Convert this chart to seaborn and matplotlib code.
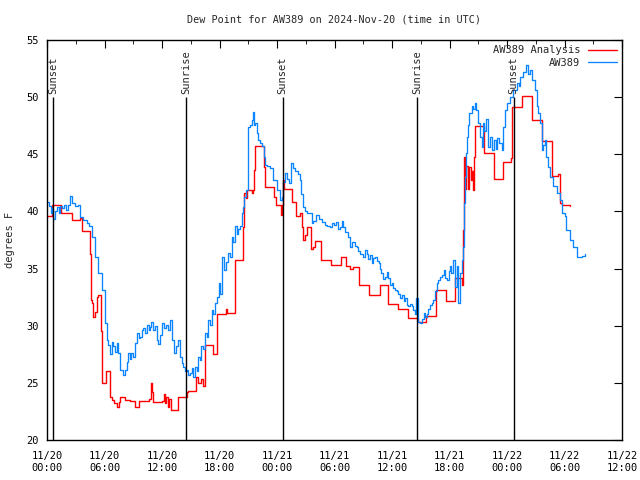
import pandas as pd
import matplotlib.pyplot as plt
import matplotlib.dates as mdates
import seaborn as sns

# estilo parecido com o gnuplot
sns.set_style('white')
plt.rcParams['font.family'] = ['DejaVu Sans Mono']

start = pd.Timestamp('2024-11-20 00:00')

# observacoes AW389 (horas desde 11/20 00:00 UTC, ponto de orvalho em F)
obs_hours = [0.0, 0.2, 0.4, 0.55, 0.65, 0.8, 1.0, 1.2, 1.4, 1.6, 1.8, 2.0, 2.2, 2.4, 2.6, 2.9, 3.2, 3.44, 3.8, 4.14,
             4.4, 4.66, 5.0, 5.36, 5.7, 6.05, 6.23, 6.4, 6.57, 6.75, 6.9, 7.1, 7.27, 7.45, 7.6, 7.9, 8.1, 8.3, 8.5, 8.65,
             8.8, 9.0, 9.2, 9.4, 9.55, 9.7, 9.9, 10.05, 10.25, 10.4, 10.6, 10.75, 10.9, 11.1, 11.3, 11.45, 11.6, 11.8, 12.0, 12.2,
             12.4, 12.66, 12.83, 13.0, 13.2, 13.5, 13.7, 13.9, 14.05, 14.2, 14.4, 14.57, 14.75, 14.9, 15.1, 15.25, 15.4, 15.6, 15.8, 16.0,
             16.1, 16.3, 16.5, 16.7, 16.8, 17.0, 17.2, 17.35, 17.5, 17.7, 17.9, 18.05, 18.3, 18.5, 18.7, 18.9, 19.1, 19.3, 19.45, 19.6,
             19.8, 19.95, 20.1, 20.3, 20.5, 20.6, 20.8, 21.0, 21.2, 21.35, 21.45, 21.6, 21.7, 21.9, 22.05, 22.2, 22.4, 22.6, 22.75, 23.0,
             23.3, 23.6, 23.97, 24.3, 24.5, 24.66, 24.8, 25.0, 25.2, 25.36, 25.5, 25.7, 25.9, 26.2, 26.4, 26.55, 26.7, 26.9, 27.1, 27.4,
             27.6, 27.8, 28.1, 28.4, 28.7, 29.0, 29.25, 29.5, 29.7, 29.9, 30.2, 30.4, 30.6, 30.75, 30.9, 31.1, 31.4, 31.6, 31.8, 31.97,
             32.1, 32.3, 32.5, 32.7, 33.0, 33.2, 33.36, 33.5, 33.7, 33.9, 34.05, 34.2, 34.4, 34.6, 34.75, 34.9, 35.1, 35.3, 35.45, 35.6,
             35.8, 35.97, 36.15, 36.3, 36.5, 36.66, 36.85, 37.0, 37.2, 37.36, 37.55, 37.7, 37.9, 38.05, 38.2, 38.4, 38.55, 38.7, 38.9, 39.1,
             39.3, 39.45, 39.6, 39.8, 40.0, 40.15, 40.3, 40.5, 40.66, 40.85, 41.0, 41.2, 41.4, 41.55, 41.7, 41.9, 42.05, 42.2, 42.4, 42.6,
             42.75, 42.9, 43.1, 43.27, 43.4, 43.5, 43.6, 43.7, 43.8, 43.95, 44.07, 44.3, 44.5, 44.66, 44.8, 45.0, 45.2, 45.36, 45.5, 45.65,
             45.8, 46.0, 46.2, 46.4, 46.6, 46.8, 47.0, 47.2, 47.45, 47.6, 47.8, 48.0, 48.3, 48.66, 49.0, 49.2, 49.36, 49.7, 50.0, 50.2,
             50.4, 50.6, 50.9, 51.1, 51.26, 51.45, 51.6, 51.7, 51.8, 51.97, 52.1, 52.3, 52.5, 52.8, 53.2, 53.5, 53.7, 54.0, 54.2, 54.6,
             54.9, 55.3, 55.6, 55.85, 56.1]
obs_dewpt = [40.85, 40.5, 39.9, 40.3, 39.3, 40.0, 40.4, 39.9, 40.5, 40.3, 40.6, 40.1, 40.6, 41.35, 40.7, 40.5, 40.6, 39.5, 39.25, 39.0,
             38.7, 37.8, 36.0, 34.6, 33.1, 30.2, 28.75, 28.3, 27.5, 28.6, 28.2, 27.7, 28.5, 27.6, 26.1, 25.7, 26.1, 26.8, 27.6, 27.1,
             27.6, 27.3, 28.5, 29.4, 28.9, 29.05, 29.6, 29.8, 29.4, 30.1, 29.6, 29.9, 30.3, 29.6, 30.0, 28.75, 28.4, 29.2, 30.2, 29.8,
             30.1, 29.6, 30.5, 28.75, 27.6, 28.2, 28.75, 27.3, 26.7, 26.4, 26.0, 26.1, 25.7, 25.85, 26.3, 25.5, 26.4, 26.0, 27.3, 27.0,
             28.2, 28.0, 29.4, 29.0, 30.5, 30.1, 31.4, 31.0, 32.0, 32.55, 33.7, 32.8, 36.05, 34.9, 35.6, 36.35, 36.0, 37.8, 37.3, 38.7,
             38.0, 38.5, 38.7, 39.85, 40.4, 41.3, 41.9, 47.4, 47.6, 48.0, 48.7, 47.6, 47.7, 46.85, 46.25, 46.0, 45.7, 44.8, 44.1, 44.0,
             43.8, 42.75, 41.9, 41.0, 41.3, 42.6, 43.35, 42.8, 42.5, 42.5, 44.2, 43.8, 43.5, 43.25, 42.75, 41.5, 40.4, 40.0, 39.85, 39.85,
             38.95, 39.2, 39.7, 39.3, 39.1, 38.8, 38.7, 38.65, 39.0, 38.8, 39.1, 38.5, 38.65, 39.2, 38.6, 38.2, 37.8, 36.9, 37.3, 37.35,
             37.0, 36.9, 36.5, 36.3, 36.05, 36.6, 36.3, 35.8, 36.2, 35.5, 35.9, 36.05, 35.7, 35.5, 35.0, 34.6, 34.1, 34.3, 34.7, 34.2,
             33.6, 33.7, 33.3, 33.1, 33.0, 32.8, 32.4, 32.7, 32.2, 32.4, 31.8, 31.7, 31.9, 31.7, 31.4, 31.0, 32.4, 30.35, 30.2, 30.6,
             31.1, 30.8, 31.0, 31.5, 31.8, 32.0, 32.25, 33.0, 33.7, 34.0, 34.3, 34.4, 34.9, 34.2, 34.0, 34.8, 35.2, 34.6, 35.75, 33.4,
             35.2, 32.0, 34.6, 35.75, 36.9, 40.7, 43.0, 45.1, 46.5, 47.6, 48.6, 49.2, 49.0, 49.45, 48.9, 47.7, 46.5, 45.65, 47.7, 47.0,
             48.1, 45.65, 46.5, 45.4, 46.25, 45.5, 46.4, 46.0, 45.4, 47.4, 48.9, 49.45, 50.05, 50.6, 51.2, 51.0, 51.8, 52.2, 52.8, 52.0,
             52.4, 51.5, 50.6, 49.2, 48.6, 47.7, 46.5, 45.4, 45.8, 46.25, 44.8, 43.9, 43.0, 42.2, 41.6, 41.0, 39.85, 39.6, 38.4, 37.5,
             36.9, 36.0, 36.0, 36.1, 36.3]

# analise AW389 (degraus)
ana_hours = [0.0, 0.55, 1.5, 2.6, 3.44, 3.6, 4.5, 4.56, 4.7, 4.84, 5.0, 5.18, 5.3, 5.6, 5.7, 6.12, 6.57, 6.8, 7.0, 7.27,
             7.5, 7.6, 8.14, 8.66, 9.18, 9.63, 10.68, 10.9, 11.0, 11.1, 12.0, 12.2, 12.3, 12.45, 12.6, 12.7, 12.9, 13.7, 14.6, 14.7,
             15.55, 15.8, 16.1, 16.3, 16.5, 17.35, 17.7, 18.7, 18.8, 19.6, 20.5, 20.6, 20.75, 20.85, 21.4, 21.5, 21.6, 21.7, 22.65, 22.75,
             23.65, 23.9, 24.45, 24.55, 24.66, 24.75, 25.55, 26.0, 26.4, 26.6, 26.7, 26.9, 27.1, 27.5, 27.8, 28.0, 28.6, 29.6, 30.7, 31.25,
             31.6, 31.9, 32.6, 33.6, 34.7, 35.6, 36.6, 37.7, 38.7, 39.5, 40.6, 41.6, 42.6, 43.3, 43.45, 43.5, 43.6, 43.75, 43.9, 44.07,
             44.2, 44.3, 44.4, 44.55, 44.65, 45.6, 46.6, 46.65, 47.6, 48.4, 48.5, 49.6, 50.65, 51.6, 52.66, 53.3, 53.5, 53.7, 54.6]
ana_dewpt = [39.6, 40.55, 39.9, 39.25, 39.4, 38.3, 36.3, 32.25, 32.0, 30.8, 31.2, 32.55, 32.7, 29.5, 25.0, 26.0, 23.8, 23.5, 23.2, 22.9,
             23.3, 23.8, 23.5, 23.4, 22.9, 23.4, 23.6, 25.0, 24.2, 23.3, 23.4, 24.0, 23.2, 23.8, 22.9, 23.6, 22.6, 23.8, 24.2, 24.3,
             25.5, 25.0, 25.3, 24.7, 28.3, 27.5, 31.0, 31.5, 31.1, 35.75, 38.65, 41.6, 41.2, 41.9, 41.6, 41.9, 43.6, 45.7, 43.9, 42.1,
             41.3, 40.6, 39.7, 40.6, 42.75, 41.95, 40.85, 39.6, 39.85, 38.65, 37.5, 37.9, 38.65, 36.75, 36.9, 37.45, 35.75, 35.3, 36.0, 35.2,
             35.0, 35.1, 33.6, 32.7, 33.55, 31.9, 31.5, 30.65, 30.3, 30.85, 33.1, 32.2, 34.2, 33.55, 38.4, 44.8, 42.0, 44.0, 42.0, 43.9,
             42.75, 43.5, 41.9, 44.8, 47.5, 45.1, 43.9, 42.8, 44.3, 44.65, 49.1, 50.1, 48.0, 46.15, 43.1, 43.3, 40.7, 40.55, 40.5]

# nascer/por do sol
sun_hours = [0.63, 14.5, 24.6, 38.6, 48.7]
sun_labels = ['Sunset', 'Sunrise', 'Sunset', 'Sunrise', 'Sunset']

obs = pd.DataFrame({'time': start + pd.to_timedelta(obs_hours, unit='h'), 'dewpt': obs_dewpt})
ana = pd.DataFrame({'time': start + pd.to_timedelta(ana_hours, unit='h'), 'dewpt': ana_dewpt})
sun_times = start + pd.to_timedelta(sun_hours, unit='h')

fig = plt.figure(figsize=(6.4, 4.8), dpi=100)
ax = fig.add_axes([47 / 640, 40 / 480, 575 / 640, 400 / 480])

sns.lineplot(data=ana, x='time', y='dewpt', ax=ax, color='#ff0000', linewidth=1.0,
             drawstyle='steps-post', label='AW389 Analysis')
sns.lineplot(data=obs, x='time', y='dewpt', ax=ax, color='#0a84ff', linewidth=0.95,
             drawstyle='steps-post', label='AW389')

# linhas verticais do sol
ax.vlines(sun_times, 20, 50, color='black', linewidth=1.0)
for t, lab in zip(sun_times, sun_labels):
    ax.text(t, 50.3, lab, rotation=90, ha='center', va='bottom', fontsize=7.5)

ax.set_xlim(start, start + pd.Timedelta(hours=60))
ax.set_ylim(20, 55)
ax.set_yticks(range(20, 56, 5))
ax.xaxis.set_major_locator(mdates.HourLocator(byhour=[0, 6, 12, 18]))
ax.xaxis.set_minor_locator(mdates.HourLocator(byhour=range(0, 24, 3)))
ax.xaxis.set_major_formatter(mdates.DateFormatter('%m/%d\n%H:%M'))
ax.tick_params(which='both', direction='in', top=True, right=True, labelsize=7.5, colors='black')
ax.tick_params(which='major', length=6)
ax.tick_params(axis='x', which='major', pad=8)
ax.tick_params(axis='y', which='major', pad=6)
ax.tick_params(which='minor', length=3)
for s in ax.spines.values():
    s.set_color('black')
    s.set_linewidth(1.0)

ax.set_xlabel('')
ax.set_ylabel('degrees F', fontsize=7.5, labelpad=8)
fig.text(334 / 640, 1 - 19 / 480, 'Dew Point for AW389 on 2024-Nov-20 (time in UTC)',
         ha='center', va='center', fontsize=7.3)

ax.legend(loc='upper right', frameon=False, markerfirst=False, fontsize=7.5,
          handlelength=2.8, borderaxespad=0.1, labelspacing=0.25, handletextpad=0.7)

plt.savefig('out.png', dpi=100)
